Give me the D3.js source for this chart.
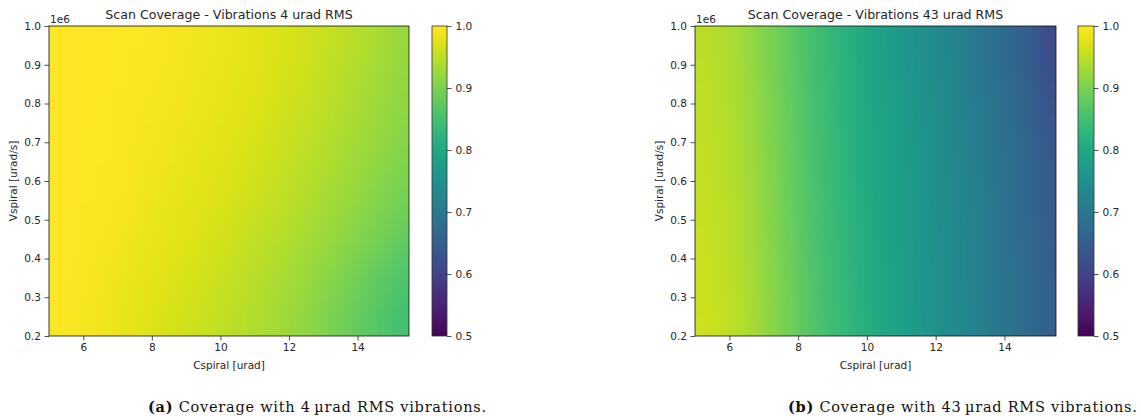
<!DOCTYPE html>
<html>
<head>
<meta charset="utf-8">
<script src="https://cdn.jsdelivr.net/npm/d3@7"></script>
<style>
  body { margin: 0; background: #fff; }
</style>
</head>
<body>
<div class="container"></div>
<script>
const width = 1141, height = 420;

// cell centres of the coverage grid
const cspiral = [5.25, 5.75, 6.25, 6.75, 7.25, 7.75, 8.25, 8.75, 9.25, 9.75, 10.25,
                 10.75, 11.25, 11.75, 12.25, 12.75, 13.25, 13.75, 14.25, 14.75, 15.25];
const vspiral = [0.95e6, 0.85e6, 0.75e6, 0.65e6, 0.55e6, 0.45e6, 0.35e6, 0.25e6]; // top -> bottom

// coverage, 4 urad RMS vibrations (rows follow vspiral)
const coverage4 = [
  [1.000, 1.000, 1.000, 1.000, 0.998, 0.997, 0.995, 0.993, 0.990, 0.987, 0.984, 0.980, 0.976, 0.972, 0.967, 0.961, 0.955, 0.948, 0.940, 0.932, 0.923],
  [1.000, 1.000, 1.000, 0.999, 0.998, 0.996, 0.994, 0.991, 0.988, 0.985, 0.981, 0.977, 0.973, 0.968, 0.963, 0.957, 0.950, 0.943, 0.935, 0.927, 0.918],
  [1.000, 1.000, 0.999, 0.998, 0.996, 0.994, 0.992, 0.989, 0.986, 0.982, 0.978, 0.974, 0.969, 0.964, 0.958, 0.952, 0.945, 0.937, 0.929, 0.921, 0.913],
  [1.000, 0.999, 0.998, 0.997, 0.995, 0.992, 0.989, 0.986, 0.982, 0.978, 0.974, 0.969, 0.964, 0.958, 0.952, 0.945, 0.938, 0.930, 0.922, 0.914, 0.905],
  [1.000, 0.999, 0.997, 0.995, 0.993, 0.990, 0.986, 0.982, 0.978, 0.974, 0.969, 0.964, 0.958, 0.952, 0.945, 0.938, 0.930, 0.922, 0.913, 0.904, 0.895],
  [1.000, 0.998, 0.996, 0.993, 0.990, 0.986, 0.982, 0.978, 0.973, 0.968, 0.963, 0.957, 0.951, 0.944, 0.937, 0.929, 0.920, 0.911, 0.901, 0.891, 0.880],
  [0.999, 0.997, 0.994, 0.990, 0.986, 0.982, 0.977, 0.972, 0.967, 0.962, 0.956, 0.950, 0.943, 0.936, 0.928, 0.919, 0.909, 0.898, 0.886, 0.874, 0.862],
  [0.998, 0.995, 0.991, 0.987, 0.982, 0.977, 0.972, 0.967, 0.962, 0.957, 0.951, 0.945, 0.938, 0.930, 0.921, 0.911, 0.900, 0.888, 0.875, 0.862, 0.850]
];

// coverage, 43 urad RMS vibrations
const coverage43 = [
  [0.948, 0.942, 0.932, 0.916, 0.897, 0.877, 0.857, 0.839, 0.822, 0.806, 0.790, 0.776, 0.762, 0.748, 0.733, 0.717, 0.700, 0.683, 0.664, 0.643, 0.615],
  [0.950, 0.944, 0.934, 0.918, 0.899, 0.879, 0.859, 0.841, 0.824, 0.808, 0.792, 0.778, 0.765, 0.751, 0.736, 0.720, 0.704, 0.687, 0.669, 0.650, 0.628],
  [0.952, 0.946, 0.936, 0.920, 0.901, 0.881, 0.861, 0.843, 0.826, 0.810, 0.794, 0.781, 0.768, 0.754, 0.739, 0.724, 0.708, 0.691, 0.674, 0.656, 0.636],
  [0.954, 0.948, 0.938, 0.922, 0.903, 0.883, 0.863, 0.845, 0.828, 0.812, 0.796, 0.783, 0.770, 0.757, 0.742, 0.727, 0.711, 0.695, 0.678, 0.661, 0.642],
  [0.956, 0.950, 0.940, 0.924, 0.905, 0.885, 0.865, 0.847, 0.830, 0.814, 0.798, 0.785, 0.772, 0.759, 0.744, 0.729, 0.713, 0.697, 0.681, 0.664, 0.646],
  [0.958, 0.952, 0.942, 0.926, 0.907, 0.887, 0.867, 0.849, 0.832, 0.816, 0.800, 0.787, 0.774, 0.761, 0.746, 0.731, 0.715, 0.699, 0.683, 0.667, 0.649],
  [0.960, 0.954, 0.944, 0.928, 0.909, 0.889, 0.869, 0.851, 0.834, 0.818, 0.802, 0.788, 0.775, 0.762, 0.747, 0.732, 0.716, 0.700, 0.684, 0.668, 0.651],
  [0.962, 0.956, 0.946, 0.930, 0.911, 0.891, 0.871, 0.853, 0.836, 0.820, 0.804, 0.790, 0.776, 0.763, 0.748, 0.733, 0.717, 0.701, 0.685, 0.669, 0.652]
];

const xTicks = [6, 8, 10, 12, 14];
const yTicks = [0.2e6, 0.3e6, 0.4e6, 0.5e6, 0.6e6, 0.7e6, 0.8e6, 0.9e6, 1.0e6];
const cbTicks = [0.5, 0.6, 0.7, 0.8, 0.9, 1.0];
const titles = ["Scan Coverage - Vibrations 4 urad RMS", "Scan Coverage - Vibrations 43 urad RMS"];
const captionTags = ["(a)", "(b)"];
const captions = [" Coverage with 4\u2009\u00b5rad RMS vibrations.", " Coverage with 43\u2009\u00b5rad RMS vibrations."];

const TEXT = "#262626";
const TICK_FONT = "10.5px";
const svg = d3.select(".container")
    .append("svg")
    .attr("width", width)
    .attr("height", height)
    .style("font-family", "'DejaVu Sans', sans-serif");

const color = d3.scaleSequential(d3.interpolateViridis).domain([0.5, 1.0]);

// colorbar gradient
const grad = svg.append("defs").append("linearGradient")
    .attr("id", "viridis").attr("x1", 0).attr("y1", 1).attr("x2", 0).attr("y2", 0);
d3.range(0, 1.0001, 0.02).forEach(t => {
    grad.append("stop").attr("offset", t).attr("stop-color", d3.interpolateViridis(t));
});

const panels = [
    { left: 49, w: 360, cbLeft: 432, cbW: 15, values: coverage4, capX: 148 },
    { left: 695, w: 361, cbLeft: 1078, cbW: 16, values: coverage43, capX: 788 }
];
const plotTop = 26, plotH = 310;

const styleAxis = a => {
    a.select(".domain").remove();
    a.selectAll("line").attr("stroke", TEXT).attr("stroke-width", 0.8);
    a.selectAll("text").attr("fill", TEXT).style("font-size", TICK_FONT).style("font-family", "'DejaVu Sans', sans-serif");
};

panels.forEach((p, k) => {
    const x = d3.scaleLinear().domain([5, 15.5]).range([p.left, p.left + p.w]);
    const y = d3.scaleLinear().domain([0.2e6, 1.0e6]).range([plotTop + plotH, plotTop]);
    const g = svg.append("g");

    // heatmap: one pixel per grid cell, drawn smoothed like imshow
    const canvas = document.createElement("canvas");
    canvas.width = cspiral.length;
    canvas.height = vspiral.length;
    const ctx = canvas.getContext("2d");
    p.values.forEach((row, i) => row.forEach((v, j) => {
        ctx.fillStyle = color(v);
        ctx.fillRect(j, i, 1, 1);
    }));
    const dx = (cspiral[1] - cspiral[0]) / 2, dy = (vspiral[0] - vspiral[1]) / 2;
    const x0 = x(cspiral[0] - dx), x1 = x(cspiral[cspiral.length - 1] + dx);
    const y0 = y(vspiral[0] + dy), y1 = y(vspiral[vspiral.length - 1] - dy);
    g.append("image")
        .attr("href", canvas.toDataURL())
        .attr("x", x0).attr("y", y0)
        .attr("width", x1 - x0).attr("height", y1 - y0)
        .attr("preserveAspectRatio", "none");

    // axes
    styleAxis(g.append("g")
        .attr("transform", `translate(0,${plotTop + plotH})`)
        .call(d3.axisBottom(x).tickValues(xTicks).tickSize(4.5).tickPadding(3).tickFormat(d3.format("d"))));
    styleAxis(g.append("g")
        .attr("transform", `translate(${p.left},0)`)
        .call(d3.axisLeft(y).tickValues(yTicks).tickSize(4.5).tickPadding(3.5).tickFormat(d => (d / 1e6).toFixed(1))));

    g.append("rect")
        .attr("x", p.left).attr("y", plotTop).attr("width", p.w).attr("height", plotH)
        .attr("fill", "none").attr("stroke", "#111").attr("stroke-width", 0.8);

    g.append("text").attr("x", p.left + 1).attr("y", plotTop - 3)
        .attr("fill", TEXT).style("font-size", TICK_FONT).text("1e6");

    g.append("text")
        .attr("x", p.left + p.w / 2).attr("y", 19)
        .attr("text-anchor", "middle").attr("fill", TEXT).style("font-size", "12.6px")
        .text(titles[k]);

    g.append("text")
        .attr("x", p.left + p.w / 2).attr("y", 369)
        .attr("text-anchor", "middle").attr("fill", TEXT).style("font-size", TICK_FONT)
        .text("Cspiral [urad]");

    g.append("text")
        .attr("transform", `translate(${p.left - 32},${plotTop + plotH / 2}) rotate(-90)`)
        .attr("text-anchor", "middle").attr("fill", TEXT).style("font-size", TICK_FONT)
        .text("Vspiral [urad/s]");

    // colorbar
    const cy = d3.scaleLinear().domain([0.5, 1.0]).range([plotTop + plotH, plotTop]);
    g.append("rect")
        .attr("x", p.cbLeft).attr("y", plotTop).attr("width", p.cbW).attr("height", plotH)
        .attr("fill", "url(#viridis)").attr("stroke", "#333").attr("stroke-width", 0.8);
    styleAxis(g.append("g")
        .attr("transform", `translate(${p.cbLeft + p.cbW},0)`)
        .call(d3.axisRight(cy).tickValues(cbTicks).tickSize(4.5).tickPadding(4).tickFormat(d3.format(".1f"))));

    // subfigure caption
    const cap = svg.append("text")
        .attr("x", p.capX).attr("y", 412)
        .attr("fill", "#111")
        .style("font-family", "'DejaVu Serif', serif").style("font-size", "14.5px")
        .style("letter-spacing", "0.75px");
    cap.append("tspan").style("font-weight", "bold").text(captionTags[k]);
    cap.append("tspan").text(captions[k]);
});
</script>
</body>
</html>
